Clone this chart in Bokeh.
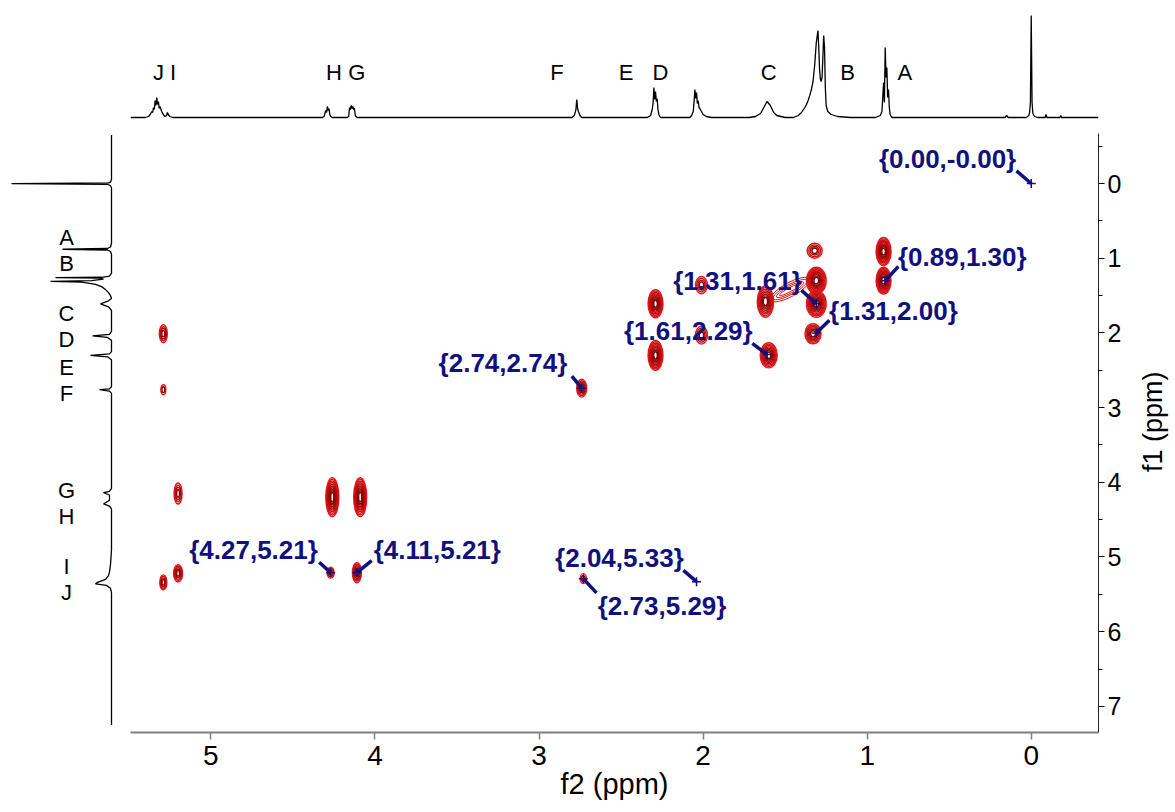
import math
from bokeh.plotting import figure
from bokeh.layouts import column, row
from bokeh.models import Range1d, FixedTicker
from bokeh.embed import file_html
from bokeh.resources import INLINE
from bokeh.core.properties import value

# ---------------- 1D projection along f2 (top trace): ppm, intensity ----------------
top_ppm = [5.49, 5.40, 5.38, 5.37, 5.36, 5.355, 5.35, 5.345, 5.34, 5.335, 5.33, 5.325, 5.32, 5.315, 5.31, 5.30, 5.29, 5.28, 5.27, 5.265, 5.26, 5.25, 5.23,
           4.32, 4.31, 4.30, 4.295, 4.29, 4.285, 4.28, 4.275, 4.27, 4.26,
           4.17, 4.16, 4.155, 4.15, 4.145, 4.14, 4.135, 4.13, 4.125, 4.12, 4.11,
           2.80, 2.785, 2.775, 2.77, 2.765, 2.76, 2.75, 2.74,
           2.34, 2.32, 2.31, 2.305, 2.30, 2.295, 2.29, 2.285, 2.28, 2.275, 2.27, 2.26,
           2.08, 2.07, 2.06, 2.055, 2.05, 2.045, 2.04, 2.035, 2.03, 2.025, 2.02, 2.01, 2.00, 1.98, 1.95,
           1.72, 1.68, 1.65, 1.63, 1.61, 1.59, 1.57, 1.55, 1.50,
           1.45, 1.42, 1.40, 1.38, 1.37, 1.36, 1.35, 1.34, 1.33, 1.32, 1.31, 1.30, 1.295, 1.29, 1.285, 1.28, 1.275, 1.27, 1.265, 1.26, 1.255, 1.25, 1.24, 1.22, 1.18, 1.10,
           0.95, 0.92, 0.91, 0.905, 0.90, 0.895, 0.89, 0.885, 0.88, 0.875, 0.87, 0.865, 0.86, 0.85,
           0.16, 0.15, 0.14,
           0.03, 0.015, 0.01, 0.005, 0.00, -0.005, -0.01, -0.02, -0.04, -0.085, -0.09, -0.095, -0.175, -0.18, -0.185, -0.41]
top_int = [0, 0, 1, 3, 6, 5, 10, 8, 17, 12, 20, 13, 16, 9, 11, 6, 3, 1, 2, 5, 3, 1, 0,
           0, 1, 7, 5, 11, 7, 9, 3, 1, 0,
           0, 1, 10, 8, 12, 9, 11, 8, 9, 2, 0,
           0, 2, 8, 18, 9, 6, 2, 0,
           0, 2, 8, 14, 30, 18, 26, 16, 19, 8, 3, 0,
           0, 2, 6, 16, 28, 19, 25, 14, 17, 10, 9, 6, 3, 1, 0,
           0, 1, 4, 10, 16, 12, 5, 2, 0,
           0, 2, 5, 10, 13, 17, 22, 28, 36, 52, 75, 87, 70, 48, 38, 36, 40, 60, 82, 70, 30, 12, 6, 3, 1, 0,
           0, 2, 6, 20, 35, 15, 70, 40, 50, 20, 28, 10, 3, 0,
           0, 2, 0,
           0, 2, 5, 15, 102, 15, 4, 1, 0, 0, 3, 0, 0, 2, 0, 0]

# ---------------- 1D projection along f1 (left trace): ppm, intensity ----------------
left_ppm = [-0.65, -0.05, -0.02, -0.01, 0.00, 0.01, 0.03, 0.06,
            0.80, 0.85, 0.87, 0.88, 0.89, 0.91, 0.95,
            1.20, 1.24, 1.255, 1.26, 1.265, 1.28, 1.30, 1.31, 1.32, 1.33, 1.35, 1.38, 1.42, 1.46, 1.50, 1.54,
            1.57, 1.61, 1.65, 1.70,
            1.98, 2.02, 2.04, 2.06, 2.10,
            2.25, 2.28, 2.30, 2.32, 2.36,
            2.72, 2.75, 2.76, 2.78, 2.81,
            4.08, 4.12, 4.14, 4.17, 4.24, 4.29, 4.32, 4.36,
            4.90, 5.10, 5.20, 5.25, 5.30, 5.34, 5.36, 5.38, 5.42, 5.48, 7.25]
left_int = [0, 0, 1, 3, 100, 4, 1, 0,
            0, 1, 4, 49, 4, 1, 0,
            0, 2, 10, 56, 12, 8, 20, 61, 30, 25, 16, 10, 6, 3, 1, 0,
            3, 11, 3, 0,
            0, 2, 19, 4, 0,
            0, 2, 21, 4, 0,
            0, 2, 12, 2, 0,
            0, 2, 8, 2, 2, 8, 2, 0,
            0, 1, 2, 3, 6, 14, 16, 5, 1, 0, 0]

# ---------------- peak letters ----------------
top_letters = ["J", "I", "H", "G", "F", "E", "D", "C", "B", "A"]
top_letter_ppm = [5.32, 5.23, 4.25, 4.11, 2.89, 2.47, 2.26, 1.60, 1.12, 0.77]
left_letters = ["A", "B", "C", "D", "E", "F", "G", "H", "I", "J"]
left_letter_ppm = [0.72, 1.07, 1.74, 2.09, 2.46, 2.81, 4.11, 4.46, 5.13, 5.48]

# ---------------- COSY cross peaks: f2, f1 (ppm), extent (ppm), contour levels ----------------
cp_f2 = [1.32, 0.90, 0.90, 1.31, 1.31, 1.62, 2.01, 2.29, 2.29, 1.33, 1.60, 2.01, 2.74, 5.29, 5.29, 5.20, 4.26, 4.09, 5.20, 5.29, 4.27, 4.11, 2.73]
cp_f1 = [0.90, 0.91, 1.30, 1.30, 1.61, 1.58, 1.36, 1.61, 2.30, 2.01, 2.30, 2.03, 2.74, 2.01, 2.76, 4.15, 4.20, 4.20, 5.22, 5.34, 5.21, 5.21, 5.29]
cp_w = [0.091, 0.091, 0.091, 0.12, 0.12, 0.10, 0.073, 0.091, 0.091, 0.098, 0.104, 0.073, 0.061, 0.049, 0.030, 0.049, 0.079, 0.079, 0.055, 0.043, 0.043, 0.055, 0.037]
cp_h = [0.20, 0.375, 0.36, 0.36, 0.36, 0.42, 0.23, 0.375, 0.40, 0.27, 0.335, 0.24, 0.24, 0.24, 0.134, 0.28, 0.52, 0.52, 0.23, 0.20, 0.147, 0.27, 0.134]
cp_levels = [4, 9, 9, 9, 9, 8, 4, 9, 9, 6, 8, 4, 5, 4, 2, 4, 10, 10, 5, 4, 3, 6, 2]

# ridge between the 1.61 and 1.31 diagonal peaks
ridge_f2 = [1.47]
ridge_f1 = [1.42]

# ---------------- peak-pick annotations ----------------
ann_text = ["{0.00,-0.00}", "{0.89,1.30}", "{1.31,1.61}", "{1.31,2.00}", "{1.61,2.29}",
            "{2.74,2.74}", "{4.27,5.21}", "{4.11,5.21}", "{2.04,5.33}", "{2.73,5.29}"]
ann_f2 = [0.00, 0.89, 1.31, 1.31, 1.61, 2.74, 4.27, 4.11, 2.04, 2.73]
ann_f1 = [-0.00, 1.30, 1.61, 2.00, 2.29, 2.74, 5.21, 5.21, 5.33, 5.29]
lead_f2 = [0.09, 0.81, 1.40, 1.23, 1.70, 2.80, 4.34, 4.02, 2.12, 2.65]
lead_f1 = [-0.17, 1.11, 1.43, 1.83, 2.14, 2.58, 5.07, 5.05, 5.18, 5.48]
txt_f2 = [0.51, 0.42, 1.79, 0.84, 2.09, 3.22, 4.74, 3.62, 2.51, 2.25]
txt_f1 = [-0.33, 0.98, 1.30, 1.70, 1.97, 2.40, 4.91, 4.91, 5.02, 5.66]

f1_title = "f1 (ppm)"
f1_title_pos = 3.19

FONT = value("Liberation Sans")
NAVY = "#10107e"

x_rng = Range1d(5.49, -0.41)
y_rng = Range1d(7.35, -0.67)

# ---------- top projection ----------
top = figure(width=1175, height=133, x_range=x_rng, y_range=Range1d(-16, 117),
             output_backend="svg", toolbar_location=None,
             x_axis_location=None, y_axis_location=None,
             min_border_left=130, min_border_right=77, min_border_top=0, min_border_bottom=0)
top.outline_line_color = None
top.grid.visible = False
top.line(top_ppm, top_int, line_color="black", line_width=1.3)
top.text(x=top_letter_ppm, y=[45] * len(top_letters), text=top_letters, text_font=FONT,
         text_font_size="22px", text_align="center", text_baseline="middle", text_color="black")

# ---------- left projection ----------
left = figure(width=130, height=679, x_range=Range1d(111, -19), y_range=y_rng,
              output_backend="svg", toolbar_location=None,
              x_axis_location=None, y_axis_location=None,
              min_border_left=0, min_border_right=0, min_border_top=0, min_border_bottom=80)
left.outline_line_color = None
left.grid.visible = False
left.line(left_int, left_ppm, line_color="black", line_width=1.3)
left.text(x=[45] * len(left_letters), y=left_letter_ppm, text=left_letters, text_font=FONT,
          text_font_size="22px", text_align="center", text_baseline="middle", text_color="black")

# ---------- main 2D map ----------
p = figure(width=1000, height=679, x_range=x_rng, y_range=y_rng, y_axis_location="right",
           output_backend="svg", toolbar_location=None,
           min_border_left=0, min_border_right=32, min_border_top=0, min_border_bottom=80)
p.outline_line_color = None
p.grid.visible = False

outer = (232, 22, 26)
inner = (130, 0, 0)
rx, ry, rw, rh, rc = [], [], [], [], []
for f2, f1, w, h, n in zip(cp_f2, cp_f1, cp_w, cp_h, cp_levels):
    for k in range(n):
        t = k / max(n - 1, 1)
        s = 1.0 - 0.85 * k / n
        rx.append(f2)
        ry.append(f1)
        rw.append(w * s)
        rh.append(h * s)
        c = tuple(int(outer[i] + (inner[i] - outer[i]) * t) for i in range(3))
        rc.append("#%02x%02x%02x" % c)
p.ellipse(x=rx, y=ry, width=rw, height=rh, fill_color=None, line_color=rc, line_width=1.4)

for sw, sh in [(44, 14), (38, 10), (31, 7), (24, 4)]:
    p.ellipse(x=ridge_f2, y=ridge_f1, width=sw, height=sh, width_units="screen", height_units="screen",
              angle=0.5, fill_color=None, line_color="#e0141a", line_width=1)

p.segment(x0=ann_f2, y0=ann_f1, x1=lead_f2, y1=lead_f1, line_color=NAVY, line_width=3.5)
p.scatter(x=ann_f2, y=ann_f1, marker="cross", size=9, line_color=NAVY, line_width=1.5)
p.text(x=txt_f2, y=txt_f1, text=ann_text, text_font=FONT, text_font_style="bold",
       text_font_size="26px", text_align="center", text_baseline="middle", text_color=NAVY)

xa = p.xaxis[0]
xa.ticker = FixedTicker(ticks=[0, 1, 2, 3, 4, 5], minor_ticks=[])
xa.axis_line_color = "#808080"
xa.axis_line_width = 2
xa.major_tick_line_color = "#808080"
xa.major_tick_line_width = 1.5
xa.major_tick_out = 7
xa.major_tick_in = 0
xa.major_label_text_font = "Liberation Sans"
xa.major_label_text_font_size = "28px"
xa.major_label_text_color = "black"
xa.major_label_standoff = 6
xa.axis_label = "f2 (ppm)"
xa.axis_label_text_font = "Liberation Sans"
xa.axis_label_text_font_size = "29px"
xa.axis_label_text_font_style = "normal"
xa.axis_label_text_color = "black"
xa.axis_label_standoff = 0

ya = p.yaxis[0]
ya.ticker = FixedTicker(ticks=[0, 1, 2, 3, 4, 5, 6, 7], minor_ticks=[-0.5, 0.5, 1.5, 2.5, 3.5, 4.5, 5.5, 6.5])
ya.axis_line_color = "#222222"
ya.major_tick_out = 6
ya.major_tick_in = 0
ya.minor_tick_out = 4
ya.minor_tick_in = 0
ya.major_label_text_font = "Liberation Sans"
ya.major_label_text_font_size = "25px"
ya.major_label_text_color = "black"
ya.major_label_standoff = 3

# ---------- strip carrying the f1 axis title (reads bottom-to-top) ----------
strip = figure(width=45, height=679, x_range=Range1d(0, 45), y_range=y_rng,
               output_backend="svg", toolbar_location=None,
               x_axis_location=None, y_axis_location=None,
               min_border_left=0, min_border_right=0, min_border_top=0, min_border_bottom=80)
strip.outline_line_color = None
strip.grid.visible = False
strip.text(x=[22], y=[f1_title_pos], text=[f1_title], angle=math.pi / 2, text_font=FONT,
           text_font_size="27px", text_align="center", text_baseline="middle", text_color="black")

layout = column(top, row(left, p, strip))
open("out.html", "w").write(file_html(layout, INLINE))
